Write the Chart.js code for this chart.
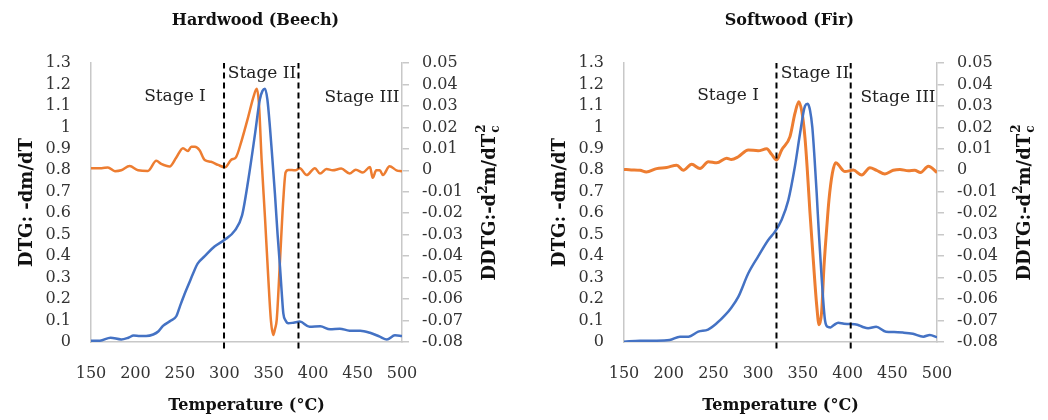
<!DOCTYPE html>
<html>
<head>
<meta charset="utf-8">
<script src="https://cdn.jsdelivr.net/npm/chart.js@4.4.1/dist/chart.umd.min.js"></script>
<style>
  body { margin: 0; background: #fff; }
  .wrap { display: flex; width: 1048px; height: 420px; }
  canvas { display: block; }
</style>
</head>
<body>
<div class="wrap">
  <canvas id="beechChart" width="524" height="420"></canvas>
  <canvas id="firChart" width="524" height="420"></canvas>
</div>
<script>
/* ======================================================
   DATA
====================================================== */
const tempTicks = [150, 200, 250, 300, 350, 400, 450, 500];
const dtgTicks = [0, 0.1, 0.2, 0.3, 0.4, 0.5, 0.6, 0.7, 0.8, 0.9, 1, 1.1, 1.2, 1.3];
const ddtgTicks = [-0.08, -0.07, -0.06, -0.05, -0.04, -0.03, -0.02, -0.01, 0, 0.01, 0.02, 0.03, 0.04, 0.05];

// Hardwood (Beech)
const beechDtgT = [150,160,172,184,192,198,205,212,220,226,231,240,246,250,255,260,265,270,278,289,300,312,320,327,334.6,340,343,345.8,348.5,351.4,354,357,360,362.7,364.5,366.4,369,372,378,385,396,408,419,430,441,453,464,475,483,492,500];
const beechDtg = [0.006,0.006,0.02,0.012,0.02,0.03,0.028,0.028,0.035,0.05,0.075,0.10,0.12,0.165,0.22,0.27,0.32,0.365,0.40,0.445,0.475,0.52,0.59,0.755,0.97,1.13,1.17,1.18,1.13,1.0,0.86,0.69,0.50,0.35,0.24,0.135,0.10,0.087,0.09,0.095,0.071,0.073,0.059,0.062,0.053,0.053,0.043,0.025,0.012,0.031,0.028];
const beechDdtgT = [150,162,169,177,184,193.5,203,214,223.5,229,238.5,246,253.5,259,263,267,272,278,285,293,300.8,308,313,319.6,327,332.7,336.5,339,342,345.8,349.5,352.5,355.2,357,359,362.7,366.4,369,372,380,385,392.7,402,407.7,415,422,431.6,441,448,456,464,467,471,475,478.6,486,493.8,500];
const beechDdtg = [0.001,0.001,0.0013,-0.0004,0,0.002,0,-0.0003,0.0044,0.003,0.0018,0.006,0.0103,0.009,0.011,0.011,0.0095,0.0048,0.004,0.0025,0.0014,0.005,0.006,0.014,0.025,0.034,0.038,0.031,0.005,-0.022,-0.05,-0.07,-0.0767,-0.074,-0.0697,-0.042,-0.0138,-0.001,0.0002,0,0.001,-0.0022,0.001,-0.0015,0.0006,0,0.0008,-0.0015,0.0003,-0.001,0.0015,-0.0035,0,0,-0.0022,0.0019,0,-0.0005];
const beechStageBounds = [299.7, 383.5];

// Softwood (Fir)
const firDtgT = [150,168,186.5,201,212.6,222,233,244,253.6,263,270,277.8,289,300.2,311.3,318.8,326.3,333.7,341.2,346.8,352.4,355.4,358,360.6,363,365.5,368,371,374.8,378,381,385,389.6,396,402,411,417,423,432,443,452,462,473,484.7,492,500];
const firDtg = [0.0015,0.006,0.006,0.009,0.025,0.025,0.048,0.058,0.087,0.125,0.16,0.21,0.32,0.40,0.475,0.514,0.57,0.66,0.82,0.97,1.10,1.11,1.08,1.0,0.86,0.69,0.50,0.30,0.10,0.07,0.068,0.08,0.09,0.085,0.084,0.08,0.07,0.064,0.071,0.048,0.047,0.044,0.038,0.025,0.033,0.022];
const firDdtgT = [150,158,168,175,186.5,197.7,209,216.3,225.7,235,244.3,253.7,264.8,270,277.8,289,300,309.6,315,320.7,326.3,335.6,341.2,345.5,349,352.4,355,358,361.7,365.5,368.2,371,373.6,376.5,379.2,383,386.7,390,394,397,406.4,415.8,425,432.5,441.8,451,458.6,468,475,481.6,490.3,500];
const firDdtg = [0.0004,0.0002,0,-0.0008,0.0008,0.0013,0.0024,0,0.0028,0.0008,0.004,0.0035,0.0056,0.005,0.0063,0.0095,0.0091,0.010,0.0075,0.0048,0.0095,0.0157,0.0266,0.032,0.027,0.015,0,-0.02,-0.042,-0.063,-0.072,-0.066,-0.045,-0.028,-0.0138,-0.0014,0.0035,0.0025,0.0003,-0.0006,0.0001,-0.0022,0.0012,0,-0.0017,0,0.0004,-0.0002,0,-0.001,0.0019,-0.001];
const firStageBounds = [320.5, 403.5];

const stageNames = ["Stage I", "Stage II", "Stage III"];

/* ======================================================
   HELPERS
====================================================== */
const SERIF = '"DejaVu Serif", serif';
const BLUE = "#4472C4";
const ORANGE = "#ED7D31";
const AXIS_GRAY = "#c8c8c8";
const TICK_TEXT = "#333333";

function pts(xs, ys) {
  return xs.map((x, i) => ({ x: x, y: ys[i] }));
}

function fixedTicks(arr) {
  return (scale) => {
    scale.ticks = arr.map((v) => ({ value: v }));
  };
}

// titles, stage labels and rotated axis titles (right one has sup/subscripts)
const textPlugin = {
  id: "texts",
  afterDraw(chart, args, o) {
    const { ctx, chartArea: a, scales } = chart;
    const midX = (a.left + a.right) / 2;
    const midY = (a.top + a.bottom) / 2;
    ctx.save();
    ctx.fillStyle = "#111";
    ctx.textAlign = "center";
    ctx.textBaseline = "middle";

    ctx.font = "bold 16px " + SERIF;
    ctx.fillText(o.title, midX + 9, 21);
    ctx.fillText("Temperature (°C)", midX, 406);

    // stage labels
    ctx.font = "17px " + SERIF;
    ctx.fillStyle = "#222";
    o.stages.forEach((s, i) => {
      ctx.fillText(stageNames[i], scales.x.getPixelForValue(s[0]), scales.y.getPixelForValue(s[1]));
    });

    // left axis title
    ctx.fillStyle = "#111";
    ctx.font = "bold 18px " + SERIF;
    ctx.save();
    ctx.translate(o.leftTitleX, midY);
    ctx.rotate(-Math.PI / 2);
    ctx.fillText("DTG: -dm/dT", 0, 0);
    ctx.restore();

    // right axis title: DDTG:-d²m/dTc²  (reads bottom to top)
    const big = "bold 18px " + SERIF;
    const small = "bold 12px " + SERIF;
    const parts = [
      ["DDTG:-d", big, 0],
      ["2", small, -8],
      ["m/dT", big, 0],
    ];
    ctx.font = small;
    const stackW = Math.max(ctx.measureText("c").width, ctx.measureText("2").width) + 1;
    let total = stackW;
    parts.forEach((p) => {
      ctx.font = p[1];
      total += ctx.measureText(p[0]).width;
    });
    ctx.save();
    ctx.translate(o.rightTitleX, midY);
    ctx.rotate(-Math.PI / 2);
    ctx.textAlign = "left";
    ctx.textBaseline = "alphabetic";
    let x = -total / 2;
    const base = 6;
    parts.forEach((p) => {
      ctx.font = p[1];
      ctx.fillText(p[0], x, base + p[2]);
      x += ctx.measureText(p[0]).width;
    });
    ctx.font = small;
    ctx.fillText("c", x + 1, base + 4);
    ctx.fillText("2", x + 1, base - 10);
    ctx.restore();

    ctx.restore();
  },
};

/* ======================================================
   CHART BUILDER
====================================================== */
function drawChart(id, cfg) {
  const dashed = cfg.bounds.map((t) => ({
    data: [{ x: t, y: -0.03 }, { x: t, y: 1.3 }],
    yAxisID: "y",
    borderColor: "#000",
    borderWidth: 2,
    borderDash: [6, 4],
    pointRadius: 0,
    clip: false,
  }));

  return new Chart(document.getElementById(id), {
    type: "line",
    data: {
      datasets: [
        ...dashed,
        {
          label: "DTG",
          data: pts(cfg.dtgT, cfg.dtg),
          yAxisID: "y",
          borderColor: BLUE,
          borderWidth: 2.5,
          pointRadius: 0,
          cubicInterpolationMode: "monotone",
        },
        {
          label: "DDTG",
          data: pts(cfg.ddtgT, cfg.ddtg),
          yAxisID: "y1",
          borderColor: ORANGE,
          borderWidth: cfg.orangeWidth,
          pointRadius: 0,
          cubicInterpolationMode: "monotone",
        },
      ],
    },
    options: {
      responsive: false,
      animation: false,
      devicePixelRatio: 1,
      layout: { padding: { top: 63, left: 0, right: 0, bottom: 0 } },
      plugins: {
        legend: { display: false },
        tooltip: { enabled: false },
        texts: {
          title: cfg.title,
          stages: cfg.stages,
          leftTitleX: cfg.leftTitleX,
          rightTitleX: cfg.rightTitleX,
        },
      },
      scales: {
        x: {
          type: "linear",
          min: 150,
          max: 500,
          afterBuildTicks: fixedTicks(tempTicks),
          afterFit: (s) => { s.height = 78; },
          grid: { display: false, drawTicks: false },
          border: { display: true, color: AXIS_GRAY, width: 1.5 },
          ticks: {
            padding: 22,
            color: TICK_TEXT,
            font: { family: SERIF, size: 16 },
            callback: (v) => String(v),
          },
        },
        y: {
          position: "left",
          min: 0,
          max: 1.3,
          afterBuildTicks: fixedTicks(dtgTicks),
          afterFit: (s) => { s.width = cfg.leftW; },
          grid: { display: false, drawTicks: false },
          border: { display: true, color: AXIS_GRAY, width: 1.5 },
          ticks: {
            padding: 20,
            autoSkip: false,
            color: TICK_TEXT,
            font: { family: SERIF, size: 16 },
            callback: (v) => String(v),
          },
        },
        y1: {
          position: "right",
          min: -0.08,
          max: 0.05,
          afterBuildTicks: fixedTicks(ddtgTicks),
          afterFit: (s) => { s.width = 524 - cfg.rightEdge; },
          grid: { drawOnChartArea: false, drawTicks: true, tickLength: 7, color: AXIS_GRAY, lineWidth: 1.5 },
          border: { display: true, color: AXIS_GRAY, width: 1.5 },
          ticks: {
            padding: 13,
            autoSkip: false,
            color: TICK_TEXT,
            font: { family: SERIF, size: 16 },
            callback: (v) => String(v),
          },
        },
      },
    },
    plugins: [textPlugin],
  });
}

drawChart("beechChart", {
  title: "Hardwood (Beech)",
  dtgT: beechDtgT, dtg: beechDtg,
  ddtgT: beechDdtgT, ddtg: beechDdtg,
  bounds: beechStageBounds,
  stages: [[244.5, 1.143], [342.4, 1.253], [455, 1.14]],
  leftW: 91, rightEdge: 402,
  leftTitleX: 27, rightTitleX: 489,
  orangeWidth: 2.5,
});

drawChart("firChart", {
  title: "Softwood (Fir)",
  dtgT: firDtgT, dtg: firDtg,
  ddtgT: firDdtgT, ddtg: firDdtg,
  bounds: firStageBounds,
  stages: [[266.3, 1.15], [363.6, 1.253], [456.4, 1.14]],
  leftW: 100, rightEdge: 413,
  leftTitleX: 36, rightTitleX: 500,
  orangeWidth: 3,
});
</script>
</body>
</html>
